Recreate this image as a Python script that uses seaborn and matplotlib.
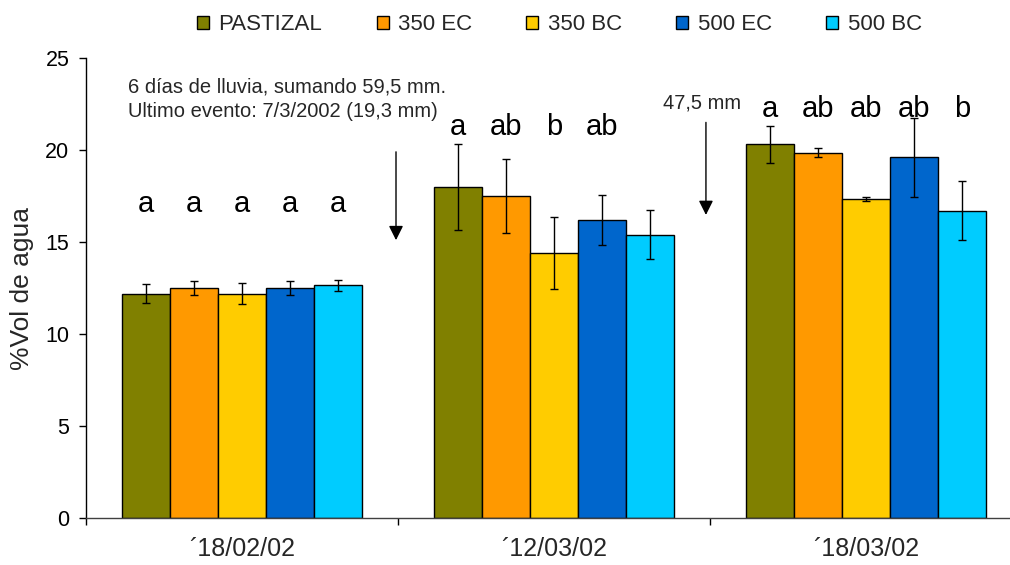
import numpy as np
import pandas as pd
import matplotlib
matplotlib.use("Agg")
import matplotlib.pyplot as plt
import seaborn as sns

# Soil water content per treatment and sampling date
fechas = ["´18/02/02", "´12/03/02", "´18/03/02"]
tratamientos = ["PASTIZAL", "350 EC", "350 BC", "500 EC", "500 BC"]

pastizal = [12.2, 18.0, 20.3]
ec350 = [12.5, 17.5, 19.85]
bc350 = [12.2, 14.4, 17.35]
ec500 = [12.5, 16.2, 19.6]
bc500 = [12.65, 15.4, 16.7]

err_pastizal = [0.53, 2.35, 1.03]
err_ec350 = [0.37, 2.0, 0.24]
err_bc350 = [0.58, 1.95, 0.1]
err_ec500 = [0.39, 1.38, 2.15]
err_bc500 = [0.3, 1.35, 1.6]

# Significance letters (Tukey groups) per date; empty = no label
letras_1 = ["a", "a", "a", "a", "a"]
letras_2 = ["a", "ab", "b", "ab", ""]
letras_3 = ["a", "ab", "ab", "ab", "b"]

colores = ["#808000", "#FF9900", "#FFCC00", "#0066CC", "#00CCFF"]

valores = [pastizal, ec350, bc350, ec500, bc500]
errores = [err_pastizal, err_ec350, err_bc350, err_ec500, err_bc500]
letras = [letras_1, letras_2, letras_3]

df = pd.DataFrame(
    [(f, t, valores[i][j]) for i, t in enumerate(tratamientos) for j, f in enumerate(fechas)],
    columns=["fecha", "tratamiento", "vol"],
)

sns.set_style("white")
plt.rcParams["font.family"] = ["Liberation Sans", "DejaVu Sans"]

fig = plt.figure(figsize=(10.10, 5.65), dpi=100)
# axes spans from the y axis to beyond the right edge of the canvas
ax = fig.add_axes([86 / 1010, 47 / 565, 936 / 1010, 460 / 565])

sns.barplot(
    data=df, x="fecha", y="vol", hue="tratamiento",
    order=fechas, hue_order=tratamientos, palette=colores,
    width=240 / 312, gap=0, errorbar=None,
    edgecolor="black", linewidth=1.0, saturation=1, ax=ax,
)
barras = list(ax.containers)

# error bars and letters placed at the bar centres
letra_y = [16.63, 20.8, 21.8]
for i, cont in enumerate(barras):
    for j, bar in enumerate(cont):
        xc = bar.get_x() + bar.get_width() / 2
        h = bar.get_height()
        ax.errorbar(xc, h, yerr=errores[i][j], fmt="none", ecolor="black",
                    elinewidth=1.0, capsize=3, capthick=1.0, zorder=5)
        txt = letras[j][i]
        if txt:
            ax.text(xc, letra_y[j], txt, ha="center", va="baseline",
                    fontsize=21, color="black", zorder=6)

ax.set_ylim(0, 25)
ax.set_xlim(-0.5, 2.5)
ax.set_yticks([0, 5, 10, 15, 20, 25])
ax.tick_params(axis="y", which="major", direction="out", length=5,
               width=1, pad=7, labelsize=15.5, colors="black", left=True)

ax.set_xticks([-0.5, 0.5, 1.5, 2.5])
ax.set_xticklabels([])
ax.set_xticks([0, 1, 2], minor=True)
ax.set_xticklabels(fechas, minor=True)
ax.tick_params(axis="x", which="major", direction="out", length=5, width=1,
               bottom=True, colors="black")
ax.tick_params(axis="x", which="minor", length=0, pad=14, labelsize=18)

for s in ["top", "right"]:
    ax.spines[s].set_visible(False)
ax.spines["left"].set_color("black")
ax.spines["bottom"].set_color("#404040")
ax.spines["left"].set_linewidth(1)
ax.spines["bottom"].set_linewidth(1)

ax.set_xlabel("")
ax.set_ylabel("")
fig.text(22 / 1010, 1 - 288 / 565, "%Vol de agua", rotation=90,
         ha="center", va="center", fontsize=19)

# rainfall notes and arrows
ax.text(-0.365, 23.1, "6 días de lluvia, sumando 59,5 mm.", fontsize=14.5,
        ha="left", va="baseline")
ax.text(-0.365, 21.77, "Ultimo evento: 7/3/2002 (19,3 mm)", fontsize=14.5,
        ha="left", va="baseline")
ax.text(1.474, 22.28, "47,5 mm", fontsize=14.5, ha="center", va="baseline")

flecha = dict(arrowstyle="-|>,head_length=0.62,head_width=0.31", color="black",
              lw=1.0, mutation_scale=14, shrinkA=0, shrinkB=0)
ax.annotate("", xy=(0.4936, 15.1), xytext=(0.4936, 19.9), arrowprops=flecha)
ax.annotate("", xy=(1.487, 16.47), xytext=(1.487, 21.5), arrowprops=flecha)

handles, labels = ax.get_legend_handles_labels()
if ax.get_legend() is not None:
    ax.get_legend().remove()
fig.legend(handles, labels, loc="center left",
           bbox_to_anchor=(197 / 1010, 1 - 25 / 565), ncol=5, frameon=False,
           fontsize=16, handlelength=0.54, handleheight=0.54, handletextpad=0.42,
           columnspacing=2.45, borderpad=0, borderaxespad=0)

fig.savefig("out.png", dpi=100)
